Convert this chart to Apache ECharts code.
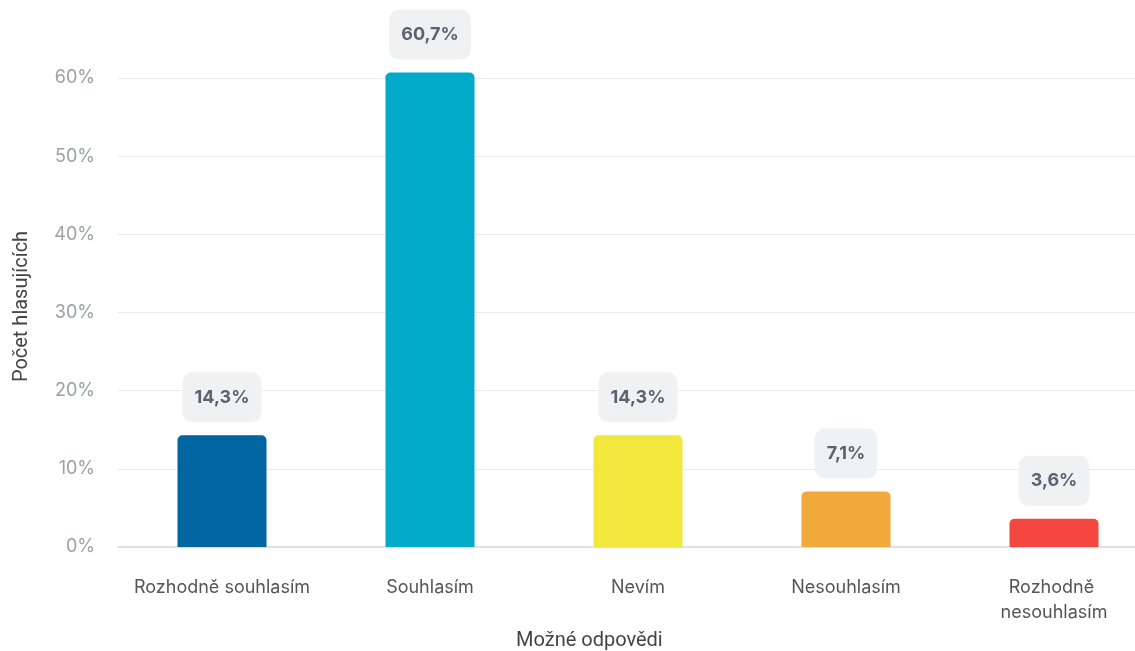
<!DOCTYPE html>
<html>
<head>
<meta charset="utf-8">
<script src="https://cdn.jsdelivr.net/npm/echarts@6/dist/echarts.min.js"></script>
<style>html,body{margin:0;padding:0;background:#fff;overflow:hidden;width:1135px;height:651px;}#c{width:1158px;height:651px;}</style>
</head>
<body>
<div id="c"></div>
<script>
const categories = ['Rozhodně souhlasím', 'Souhlasím', 'Nevím', 'Nesouhlasím', 'Rozhodně nesouhlasím'];
const values = [14.3, 60.7, 14.3, 7.1, 3.6];
const barColors = ['#0065a1', '#00aac8', '#f2e83d', '#f2a93c', '#f4473f'];
const yTicks = [0, 10, 20, 30, 40, 50, 60];
const yTitle = 'Počet hlasujících';
const xTitle = 'Možné odpovědi';

const chart = echarts.init(document.getElementById('c'));
chart.setOption({
  animation: false,
  backgroundColor: '#ffffff',
  title: {
    text: xTitle, left: 511, top: 626,
    textStyle: {fontFamily: 'Roboto', fontSize: 20, fontWeight: 'normal', color: '#444444'}
  },
  grid: {left: 118, top: 78, bottom: 104, right: 0, containLabel: false},
  xAxis: {
    type: 'category',
    data: categories,
    axisTick: {show: false},
    axisLine: {lineStyle: {color: '#d6dce6', width: 1.5}},
    axisLabel: {
      margin: 28, fontFamily: 'Inter', fontSize: 18, color: '#555555',
      lineHeight: 25, width: 200, overflow: 'break', interval: 0
    }
  },
  yAxis: {
    type: 'value', min: yTicks[0], max: yTicks[yTicks.length - 1], interval: 10,
    name: yTitle, nameLocation: 'middle', nameGap: 86,
    nameTextStyle: {fontFamily: 'Roboto', fontSize: 20, color: '#444444', padding: [0, 0, 0, 12]},
    axisLine: {show: false}, axisTick: {show: false},
    axisLabel: {margin: 23, fontFamily: 'Inter', fontSize: 18, color: '#9aa0a6', formatter: '{value}%'},
    splitLine: {lineStyle: {color: '#e8eaed', width: 1}}
  },
  series: [{
    type: 'bar',
    clip: false,
    barWidth: 89,
    data: values.map((v, i) => ({value: v, itemStyle: {color: barColors[i], borderRadius: [5, 5, 0, 0]}})),
    label: {
      show: true, position: 'top', distance: 13,
      formatter: p => String(p.value).replace('.', ',') + '%',
      backgroundColor: '#f0f1f2', borderRadius: 10, padding: [16, 12, 16, 12],
      fontFamily: 'Inter', fontSize: 18, fontWeight: 'bold', color: '#5b6270'
    }
  }]
});
</script>
</body>
</html>
